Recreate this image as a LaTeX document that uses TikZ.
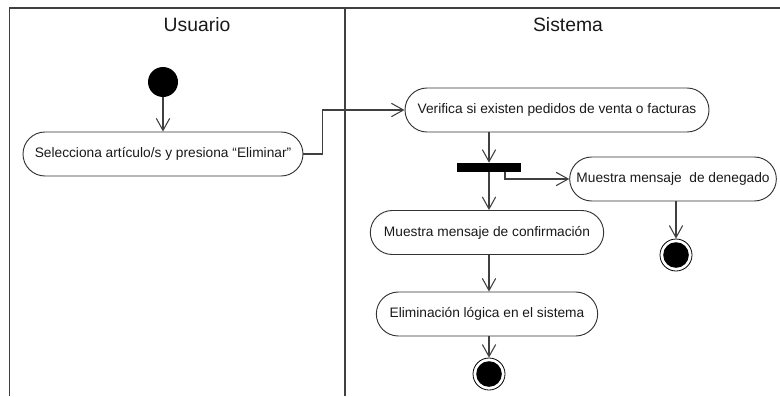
\documentclass[tikz,border=0pt]{standalone}
\usepackage{fontspec}
\setmainfont{Liberation Sans}
\usetikzlibrary{arrows.meta,shapes.misc,calc}
\begin{document}
\begin{tikzpicture}[x=0.75pt,y=-0.75pt,
  lane/.style={draw=black!75,line width=0.9pt},
  act/.style={draw=black!80,line width=0.7pt,rounded rectangle,minimum height=33pt,inner sep=0pt,
    font=\fontsize{10.3}{12}\selectfont,text=black!90},
  hdr/.style={font=\fontsize{14.5}{17}\selectfont,text=black!90},
  flow/.style={draw=black!75,line width=0.8pt,-{Straight Barb[length=9pt,width=10pt,line width=0.8pt]}},
  startst/.style={circle,fill=black,minimum size=22.5pt,inner sep=0pt},
  endst/.style={circle,draw=black,line width=0.6pt,minimum size=24pt,inner sep=0pt,
    path picture={\fill[black] (path picture bounding box.center) circle (9.6pt);}},
  barst/.style={rectangle,fill=black,minimum width=48pt,minimum height=6.8pt,inner sep=0pt}]
\useasboundingbox (0,0) rectangle (780,396);
% swimlanes
\draw[lane] (9.5,396) -- (9.5,8) -- (780,8);
\draw[lane] (345,8) -- (345,396);
\node[hdr] (husr) at (197,25) {Usuario};
\node[hdr] (hsis) at (568,25) {Sistema};
% nodes
\node[startst] (start) at (163,82) {};
\node[act,minimum width=210pt] (sel) at (163,154) {Selecciona artículo/s y presiona “Eliminar”};
\node[act,minimum width=228pt] (ver) at (557,110) {Verifica si existen pedidos de venta o facturas};
\node[barst] (bar) at (489,167.5) {};
\coordinate (bside) at (505,172);
\node[act,minimum width=155pt] (den) at (673,179) {Muestra mensaje\ \ de denegado};
\node[act,minimum width=175pt] (conf) at (487,232.5) {Muestra mensaje de confirmación};
\node[act,minimum width=166pt] (elim) at (487,314) {Eliminación lógica en el sistema};
\node[endst] (end1) at (489,374) {};
\node[endst] (end2) at (676,255) {};
% connectors
\draw[flow] (start) -- (sel);
\draw[flow] (sel.east) -- ++(19,0) |- (ver.west);
\draw[flow] (bar |- ver.south) -- (bar.north);
\draw[flow] (bar.south) -- (bar.south |- conf.north);
\draw[flow] (bside) |- (den.west);
\draw[flow] (end2 |- den.south) -- (end2);
\draw[flow] (bar |- conf.south) -- (bar |- elim.north);
\draw[flow] (end1 |- elim.south) -- (end1);
\end{tikzpicture}
\end{document}
